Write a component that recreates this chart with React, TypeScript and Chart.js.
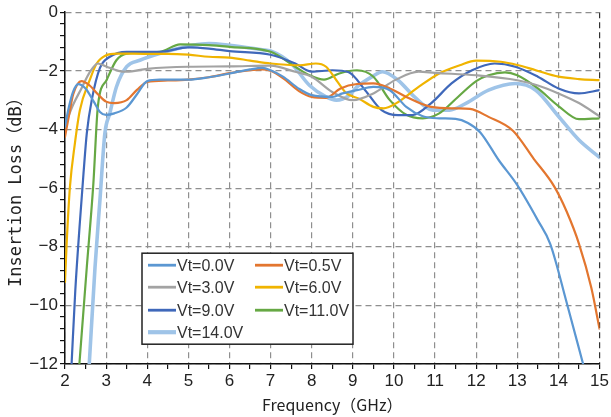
import React, { useEffect, useRef } from "react";
import { Chart, registerables } from "chart.js";

Chart.register(...registerables);

// ---- Data (frequency in GHz, insertion loss in dB) ----
const seriesLabels = ["Vt=0.0V", "Vt=0.5V", "Vt=3.0V", "Vt=6.0V", "Vt=9.0V", "Vt=11.0V", "Vt=14.0V"];
const seriesColors = ["#5B97D2", "#E3762F", "#A3A3A3", "#F0B400", "#3F68BA", "#66A844", "#9FC4E8"];
const seriesWidths = [2.2, 2.2, 2.2, 2.2, 2.2, 2.2, 3.6];

const f00 = [2.0, 2.1, 2.2, 2.32, 2.5, 2.7, 2.85, 3.0, 3.2, 3.5, 3.75, 4.0, 4.3, 5.0, 5.5, 6.0, 6.5, 6.8, 7.0, 7.3, 7.7, 8.0, 8.5, 8.75, 9.1, 9.5, 9.9, 10.3, 10.7, 11.1, 11.5, 11.8, 12.1, 12.55, 13.0, 13.5, 13.8, 14.2, 14.6];
const v00 = [-3.9, -3.2, -2.7, -2.45, -2.6, -3.05, -3.4, -3.5, -3.45, -3.25, -2.8, -2.35, -2.3, -2.3, -2.22, -2.09, -1.95, -1.9, -1.98, -2.2, -2.62, -2.83, -2.89, -2.77, -2.66, -2.55, -2.66, -3.23, -3.55, -3.62, -3.64, -3.78, -4.1, -5.05, -5.9, -7.1, -7.9, -9.9, -12.0];

const f05 = [2.0, 2.1, 2.2, 2.4, 2.6, 2.8, 3.0, 3.2, 3.5, 3.75, 4.0, 4.5, 5.0, 5.5, 6.0, 6.5, 6.8, 7.0, 7.3, 7.7, 8.0, 8.35, 8.7, 9.1, 9.5, 9.9, 10.3, 10.9, 11.5, 11.85, 12.3, 12.9, 13.4, 13.9, 14.2, 14.5, 14.8, 15.0];
const v05 = [-4.25, -3.5, -2.8, -2.35, -2.5, -2.8, -3.05, -3.1, -3.0, -2.65, -2.38, -2.33, -2.3, -2.22, -2.08, -1.98, -1.95, -2.0, -2.25, -2.7, -2.89, -2.92, -2.6, -2.45, -2.43, -2.6, -2.89, -3.23, -3.28, -3.3, -3.57, -4.05, -5.0, -5.95, -6.8, -7.9, -9.4, -10.8];

const f30 = [2.0, 2.2, 2.4, 2.6, 2.8, 3.0, 3.3, 3.5, 4.0, 5.0, 6.0, 7.0, 7.6, 8.0, 8.5, 9.0, 9.5, 10.05, 10.6, 11.0, 12.0, 13.0, 13.5, 14.0, 14.5, 15.0];
const v30 = [-3.85, -3.15, -2.6, -2.05, -1.75, -1.85, -2.0, -2.03, -1.93, -1.86, -1.85, -1.82, -2.03, -2.2, -2.72, -3.0, -2.77, -2.3, -2.03, -2.07, -2.15, -2.32, -2.5, -2.77, -3.1, -3.55];

const f60 = [2.0, 2.04, 2.12, 2.24, 2.36, 2.6, 2.77, 3.0, 3.25, 4.0, 4.5, 5.0, 5.5, 6.0, 6.5, 7.0, 7.7, 8.1, 8.35, 8.6, 8.85, 9.15, 9.5, 9.75, 10.05, 10.6, 11.1, 11.6, 12.0, 12.6, 13.0, 13.45, 14.0, 14.5, 15.0];
const v60 = [-9.2, -7.9, -5.96, -4.48, -3.35, -2.32, -1.75, -1.47, -1.41, -1.42, -1.42, -1.45, -1.52, -1.55, -1.65, -1.75, -1.81, -1.75, -1.86, -2.32, -2.77, -2.95, -3.23, -3.28, -3.11, -2.55, -2.09, -1.81, -1.65, -1.69, -1.8, -1.98, -2.2, -2.28, -2.32];

const f90 = [2.16, 2.25, 2.36, 2.45, 2.53, 2.65, 2.85, 3.09, 3.5, 4.3, 5.0, 5.5, 6.0, 7.0, 7.6, 8.0, 8.5, 8.9, 9.3, 9.7, 10.1, 10.45, 10.9, 11.4, 11.9, 12.45, 12.95, 13.5, 14.0, 14.5, 15.0];
const v90 = [-12.0, -9.5, -7.2, -5.5, -4.13, -3.0, -1.9, -1.52, -1.35, -1.35, -1.2, -1.24, -1.33, -1.45, -1.75, -2.03, -1.98, -2.05, -2.66, -3.34, -3.51, -3.51, -3.11, -2.43, -1.98, -1.75, -1.86, -2.2, -2.6, -2.77, -2.66];

const f110 = [2.35, 2.53, 2.69, 2.8, 3.01, 3.25, 3.5, 4.3, 4.8, 5.5, 6.0, 7.0, 7.6, 7.95, 8.3, 8.67, 9.1, 9.5, 9.9, 10.3, 10.7, 11.1, 11.55, 12.0, 12.3, 12.7, 13.0, 13.5, 14.0, 14.5, 15.0];
const v110 = [-12.0, -8.7, -5.84, -3.2, -2.32, -1.64, -1.41, -1.35, -1.1, -1.12, -1.18, -1.35, -1.86, -2.15, -2.3, -2.09, -1.98, -2.2, -3.0, -3.5, -3.62, -3.45, -2.9, -2.35, -2.15, -2.05, -2.15, -2.6, -3.2, -3.65, -3.62];

const f140 = [2.59, 2.73, 2.85, 2.97, 3.09, 3.25, 3.5, 3.82, 4.3, 5.1, 5.5, 6.0, 6.8, 7.0, 7.5, 7.95, 8.35, 8.6, 8.9, 9.1, 9.47, 9.72, 10.1, 10.5, 10.95, 11.35, 11.75, 12.3, 12.95, 13.45, 14.0, 14.5, 15.0];
const v140 = [-12.0, -8.7, -6.4, -4.13, -3.45, -2.55, -1.86, -1.64, -1.41, -1.13, -1.07, -1.13, -1.28, -1.32, -1.75, -2.5, -2.89, -3.0, -2.85, -2.55, -2.2, -2.03, -2.32, -2.89, -3.34, -3.34, -3.11, -2.66, -2.43, -2.66, -3.55, -4.36, -4.95];

const seriesFreqs = [f00, f05, f30, f60, f90, f110, f140];
const seriesLoss = [v00, v05, v30, v60, v90, v110, v140];

const xTitle = "Frequency（GHz）";
const yTitle = "Insertion Loss（dB）";

const isMult = (v: number, m: number) => Math.abs(v / m - Math.round(v / m)) < 1e-6;

const legendPlugin = {
  id: "boxLegend",
  afterDraw(chart: any) {
    const { ctx, chartArea } = chart;
    const bx = chartArea.left + 77;
    const by = chartArea.top + 241;
    const bw = 211;
    const bh = 91;
    ctx.save();
    ctx.fillStyle = "#ffffff";
    ctx.fillRect(bx, by, bw, bh);
    ctx.strokeStyle = "#222";
    ctx.lineWidth = 1.5;
    ctx.strokeRect(bx, by, bw, bh);
    const rowY = [12, 34, 57, 79];
    const colX = [6, 113];
    ctx.font = '16px "Liberation Sans", Arial, sans-serif';
    ctx.textBaseline = "middle";
    ctx.textAlign = "left";
    seriesLabels.forEach((lab, i) => {
      const r = Math.floor(i / 2);
      const c = i % 2;
      const x = bx + colX[c];
      const y = by + rowY[r];
      ctx.strokeStyle = seriesColors[i];
      ctx.lineWidth = seriesWidths[i] + 0.6;
      ctx.beginPath();
      ctx.moveTo(x, y);
      ctx.lineTo(x + 28, y);
      ctx.stroke();
      ctx.fillStyle = "#333";
      ctx.fillText(lab, x + 29, y + 1);
    });
    ctx.restore();
  },
};

export default function App() {
  const ref = useRef<HTMLCanvasElement | null>(null);
  useEffect(() => {
    if (!ref.current) return;
    const datasets = seriesLabels.map((label, i) => ({
      label,
      data: seriesFreqs[i].map((f, j) => ({ x: f, y: seriesLoss[i][j] })),
      borderColor: seriesColors[i],
      backgroundColor: seriesColors[i],
      borderWidth: seriesWidths[i],
      pointRadius: 0,
      cubicInterpolationMode: "monotone" as const,
      borderCapStyle: "round" as const,
      borderJoinStyle: "round" as const,
      fill: false,
    }));
    const chart = new Chart(ref.current, {
      type: "line",
      data: { datasets },
      plugins: [legendPlugin],
      options: {
        animation: false,
        responsive: false,
        devicePixelRatio: 1,
        layout: { padding: { left: 0, right: 10, top: 12, bottom: 0 } },
        plugins: { legend: { display: false }, tooltip: { enabled: false } },
        scales: {
          x: {
            type: "linear",
            min: 2,
            max: 15,
            afterFit: (s: any) => {
              s.height = 53;
            },
            ticks: {
              stepSize: 0.5,
              autoSkip: false,
              maxRotation: 0,
              padding: 2,
              color: "#222",
              font: { family: '"Liberation Sans", Arial, sans-serif', size: 17 },
              callback: (v: any) => (isMult(Number(v), 1) ? String(Math.round(Number(v))) : ""),
            },
            grid: {
              color: (c: any) => {
                const v = c.tick ? c.tick.value : 0;
                if (!isMult(v, 1)) return "rgba(0,0,0,0)";
                if (Math.abs(v - 15) < 1e-6) return "#333";
                return "#8f8f8f";
              },
              lineWidth: 1.2,
              tickColor: "#111",
              tickLength: 5,
              tickWidth: 1.2,
              tickBorderDash: [],
            },
            border: { display: true, color: "#111", width: 1.5, dash: [6, 4] },
            title: {
              display: true,
              text: xTitle,
              color: "#222",
              font: { family: '"Noto Sans CJK SC", sans-serif', size: 16 },
              padding: { top: 0, bottom: 2 },
            },
          },
          y: {
            type: "linear",
            min: -12,
            max: 0,
            afterFit: (s: any) => {
              s.width = 65;
            },
            ticks: {
              stepSize: 0.4,
              autoSkip: false,
              padding: 2,
              color: "#222",
              font: { family: '"Liberation Sans", Arial, sans-serif', size: 17 },
              callback: (v: any) => {
                const n = Number(v);
                if (!isMult(n, 2)) return "";
                const r = Math.round(n);
                return r === 0 ? "0" : "\u2212" + Math.abs(r);
              },
            },
            grid: {
              color: (c: any) => {
                const v = c.tick ? c.tick.value : 0;
                return isMult(v, 2) ? "#8f8f8f" : "rgba(0,0,0,0)";
              },
              lineWidth: 1.2,
              tickColor: "#111",
              tickLength: 5,
              tickWidth: 1.2,
              tickBorderDash: [],
            },
            border: { display: true, color: "#111", width: 1.5, dash: [6, 4] },
            title: {
              display: true,
              text: yTitle,
              color: "#222",
              font: { family: '"DejaVu Sans Mono", "Noto Sans CJK SC", monospace', size: 17 },
              padding: { top: 6, bottom: 0 },
            },
          },
        },
      },
    });
    return () => chart.destroy();
  }, []);
  return (
    <div style={{ position: "absolute", left: 0, top: 0, width: 611, height: 417, background: "#fff" }}>
      <canvas ref={ref} width={611} height={417} style={{ display: "block" }} />
    </div>
  );
}
